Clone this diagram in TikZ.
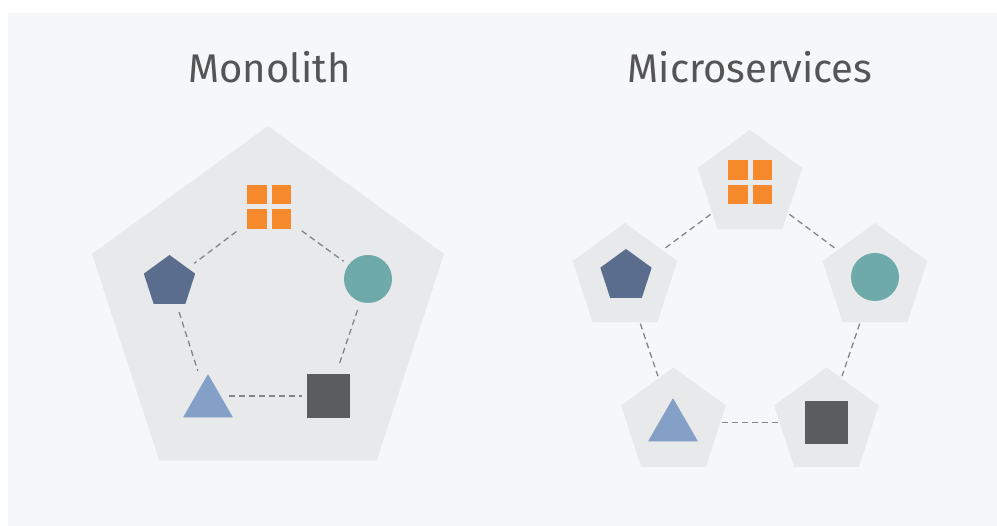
\documentclass[tikz,border=0pt]{standalone}
\usepackage{fontspec}
\setmainfont{Fira Sans}
\usetikzlibrary{shapes.geometric,calc}
\definecolor{bgc}{HTML}{F6F7F9}
\definecolor{pentbg}{HTML}{E8E9EB}
\definecolor{orng}{HTML}{F5892B}
\definecolor{navy}{HTML}{5A6D8C}
\definecolor{teal}{HTML}{6FAAAB}
\definecolor{skyb}{HTML}{84A0C6}
\definecolor{darksq}{HTML}{595D5F}
\definecolor{dashc}{HTML}{858585}
\definecolor{txtc}{HTML}{555555}
\begin{document}
\begin{tikzpicture}[x=1pt,y=-1pt,
  bigpent/.style={regular polygon, regular polygon sides=5, fill=pentbg, draw=none, inner sep=0pt, minimum size=370pt},
  spent/.style={regular polygon, regular polygon sides=5, fill=pentbg, draw=none, inner sep=0pt, minimum size=110pt},
  penticon/.style={regular polygon, regular polygon sides=5, fill=navy, draw=none, inner sep=0pt, minimum size=54pt},
  circicon/.style={circle, fill=teal, draw=none, inner sep=0pt, minimum size=48pt},
  triicon/.style={regular polygon, regular polygon sides=3, fill=skyb, draw=none, inner sep=0pt, minimum size=57.7pt},
  sqicon/.style={rectangle, fill=darksq, draw=none, inner sep=0pt, minimum size=43.5pt},
  gridicon/.style={rectangle, draw=none, inner sep=0pt, minimum size=44pt},
  conn/.style={draw=dashc, line width=1.3pt, dash pattern=on 6pt off 4pt},
  title/.style={text=txtc, font=\fontsize{40}{42}\selectfont, anchor=base, inner sep=0pt}
]
\useasboundingbox (0,0) rectangle (997,526);
\fill[white] (0,0) rectangle (997,526);
\fill[bgc] (8,13) rectangle (997,526);

% titles
\node[title] (t-mono) at (269.5,83) {Monolith};
\node[title] (t-micro) at (750,83) {Microservices};

% ---------- Monolith ----------
\node[bigpent] (mono) at (268,311) {};
\node[gridicon] (g1) at (269,207) {};
\foreach \dx in {-22,2.5} \foreach \dy in {-22,2.5}
  \fill[orng] ([shift={(\dx,\dy)}]g1.center) rectangle +(19.5,19.5);
\node[penticon] (p1) at (169.5,282) {};
\node[circicon] (c1) at (368,279) {};
\node[triicon] (t1) at (208,403) {};
\node[sqicon] (s1) at (328.5,396) {};

\draw[conn, shorten <=13pt, shorten >=8pt] (g1) -- (p1);
\draw[conn, shorten <=13pt, shorten >=6pt] (g1) -- (c1);
\draw[conn, shorten <=8.5pt, shorten >=14pt] (p1) -- (t1);
\draw[conn, shorten <=8.5pt, shorten >=8pt] (c1) -- (s1);
\draw[conn, shorten >=5pt] ([xshift=21pt]t1.center |- s1.west) -- (s1.west);

% ---------- Microservices ----------
\node[spent] (A) at (750,185) {};
\node[spent] (B) at (625,278) {};
\node[spent] (C) at (875,278) {};
\node[spent] (D) at (673.5,422.5) {};
\node[spent] (E) at (826.5,422.5) {};

\draw[conn, shorten <=2pt, shorten >=2pt] (A) -- (B);
\draw[conn, shorten <=2pt, shorten >=2pt] (A) -- (C);
\draw[conn, shorten <=1pt, shorten >=2pt] (B) -- (D);
\draw[conn, shorten <=1pt, shorten >=2pt] (C) -- (E);
\draw[conn, shorten <=1pt, shorten >=1pt] (D) -- (E);

\node[gridicon] (g2) at (750,182.5) {};
\foreach \dx in {-22,2.5} \foreach \dy in {-22,2.5}
  \fill[orng] ([shift={(\dx,\dy)}]g2.center) rectangle +(19.5,19.5);
\node[penticon] (p2) at (626,276) {};
\node[circicon] (c2) at (875,277) {};
\node[triicon] (t2) at (673,427) {};
\node[sqicon] (s2) at (826.5,422.5) {};
\end{tikzpicture}
\end{document}
